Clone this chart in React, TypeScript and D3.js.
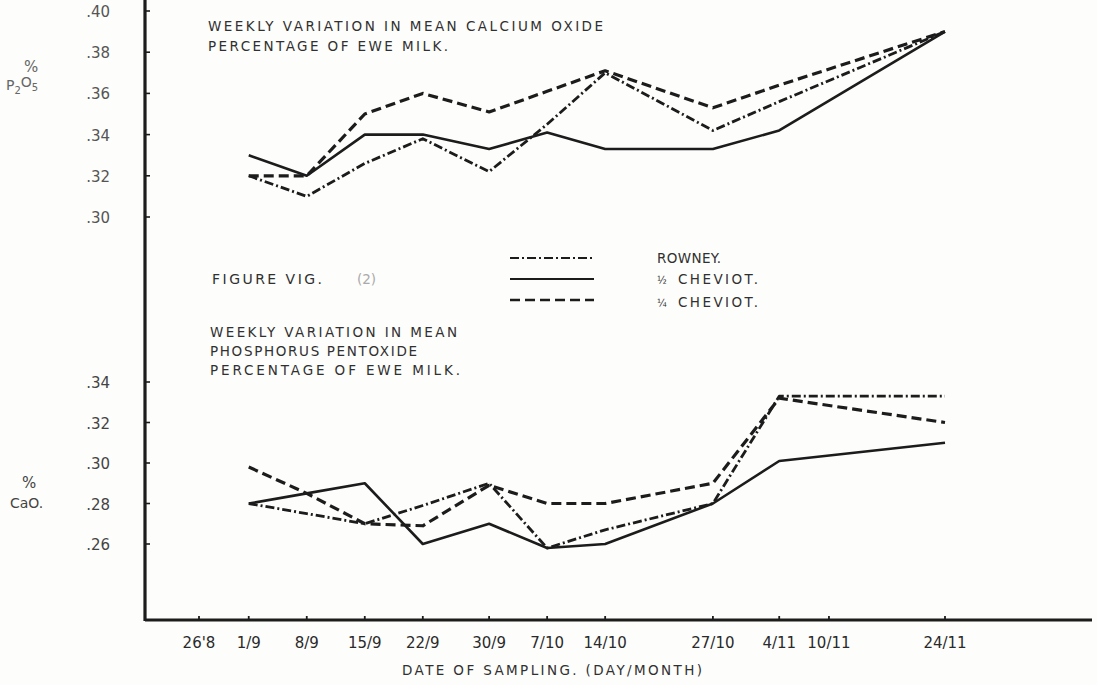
import React from "react";
import * as d3 from "d3";

// sampling dates on the axis (day/month), year is arbitrary
const tickDates = ["1965-08-26", "1965-09-01", "1965-09-08", "1965-09-15", "1965-09-22", "1965-09-30",
  "1965-10-07", "1965-10-14", "1965-10-27", "1965-11-04", "1965-11-10", "1965-11-24"];
const tickLabels = ["26'8", "1/9", "8/9", "15/9", "22/9", "30/9", "7/10", "14/10", "27/10", "4/11", "10/11", "24/11"];

// dates that actually carry a measurement
const sampleDates = ["1965-09-01", "1965-09-08", "1965-09-15", "1965-09-22", "1965-09-30",
  "1965-10-07", "1965-10-14", "1965-10-27", "1965-11-04", "1965-11-24"];

// upper panel (labelled % P2O5)
const topTicks = [0.30, 0.32, 0.34, 0.36, 0.38, 0.40];
const topRomney = [0.32, 0.31, 0.326, 0.338, 0.322, 0.345, 0.37, 0.342, 0.356, 0.39];
const topHalf = [0.33, 0.32, 0.34, 0.34, 0.333, 0.341, 0.333, 0.333, 0.342, 0.39];
const topQuarter = [0.32, 0.32, 0.35, 0.36, 0.351, 0.361, 0.371, 0.353, 0.364, 0.39];

// lower panel (labelled % CaO)
const botTicks = [0.26, 0.28, 0.30, 0.32, 0.34];
const botRomney = [0.28, 0.275, 0.27, 0.279, 0.29, 0.258, 0.267, 0.28, 0.333, 0.333];
const botHalf = [0.28, 0.285, 0.29, 0.26, 0.27, 0.258, 0.26, 0.28, 0.301, 0.31];
const botQuarter = [0.298, 0.285, 0.27, 0.269, 0.289, 0.28, 0.28, 0.29, 0.332, 0.32];

const breeds = ["ROWNEY.", "CHEVIOT.", "CHEVIOT."];
const breedPrefix = ["", "½", "¼"];

const ink = "#1c1c1c";
const textInk = "#303030";
const font = "'DejaVu Sans', sans-serif";

const styles = [
  { dash: "9 3 2 3", w: 2.8 },
  { dash: null, w: 2.6 },
  { dash: "10 5", w: 3.2 },
];

const parse = d3.timeParse("%Y-%m-%d");

export default function App() {
  const W = 1097, H = 685;
  const axisX = 145, axisY = 620;

  const xScale = d3.scaleTime()
    .domain([parse(tickDates[0])!, parse(tickDates[tickDates.length - 1])!])
    .range([199, 945]);
  const yTop = d3.scaleLinear().domain([0.30, 0.40]).range([217, 11]);
  const yBot = d3.scaleLinear().domain([0.26, 0.34]).range([544, 382]);

  const dates = sampleDates.map(d => parse(d)!);
  const mkLine = (y: d3.ScaleLinear<number, number>) =>
    d3.line<number>().x((_, i) => xScale(dates[i])).y(v => y(v));

  const topSeries = [topRomney, topHalf, topQuarter];
  const botSeries = [botRomney, botHalf, botQuarter];

  const txt = (x: number, y: number, s: string, len?: number, size = 13.5) => (
    <text x={x} y={y} fontSize={size} fill={textInk} fontFamily={font}
      textLength={len} lengthAdjust={len ? "spacing" : undefined}>{s}</text>
  );

  return (
    <svg width={W} height={H} style={{ position: "absolute", left: 0, top: 0, background: "#fdfdfb" }}>
      {/* axes */}
      <line x1={axisX} x2={axisX} y1={0} y2={axisY + 1} stroke={ink} strokeWidth={3.2} />
      <line x1={axisX} x2={1092} y1={axisY} y2={axisY} stroke={ink} strokeWidth={2.8} />

      {topTicks.map(t => (
        <g key={"tt" + t}>
          <line x1={axisX} x2={axisX + 5} y1={yTop(t)} y2={yTop(t)} stroke={ink} strokeWidth={1.6} />
          <text x={110} y={yTop(t) + 6} textAnchor="end" fontSize={15} fill="#555" fontFamily={font}>
            {"." + Math.round(t * 100)}
          </text>
        </g>
      ))}
      {botTicks.map(t => (
        <g key={"bt" + t}>
          <line x1={axisX} x2={axisX + 5} y1={yBot(t)} y2={yBot(t)} stroke={ink} strokeWidth={1.6} />
          <text x={110} y={yBot(t) + 6} textAnchor="end" fontSize={15} fill="#444" fontFamily={font}>
            {"." + Math.round(t * 100)}
          </text>
        </g>
      ))}

      {tickDates.map((d, i) => {
        const x = xScale(parse(d)!);
        return (
          <g key={d}>
            <line x1={x} x2={x} y1={axisY - 4} y2={axisY} stroke={ink} strokeWidth={1.8} />
            <text x={x} y={axisY + 28} textAnchor="middle" fontSize={15} fill="#2a2a2a" fontFamily={font}>
              {tickLabels[i]}
            </text>
          </g>
        );
      })}

      {/* axis titles */}
      <text x={552} y={675} textAnchor="middle" fontSize={13.5} fill={textInk} fontFamily={font}
        textLength={300} lengthAdjust="spacing">DATE OF SAMPLING. (DAY/MONTH)</text>
      <text x={24} y={72} fontSize={15} fill="#666" fontFamily={font}>%</text>
      <text x={6} y={90} fontSize={14} fill="#666" fontFamily={font}>
        P<tspan dy={4} fontSize={10}>2</tspan><tspan dy={-7}>O</tspan><tspan dy={4} fontSize={10}>5</tspan>
      </text>
      <text x={22} y={488} fontSize={15} fill="#444" fontFamily={font}>%</text>
      <text x={10} y={508} fontSize={14} fill="#444" fontFamily={font}>CaO.</text>

      {/* panel titles */}
      {txt(208, 31, "WEEKLY VARIATION IN MEAN CALCIUM OXIDE", 395)}
      {txt(208, 51, "PERCENTAGE OF EWE MILK.", 240)}
      {txt(212, 284, "FIGURE VIG.", 110, 14)}
      <text x={357} y={284} fontSize={13.5} fill="#aaa" fontFamily={font}>(2)</text>
      {txt(210, 337, "WEEKLY VARIATION IN MEAN", 247)}
      {txt(210, 356, "PHOSPHORUS PENTOXIDE", 207)}
      {txt(210, 375, "PERCENTAGE OF EWE MILK.", 250)}

      {/* legend */}
      {styles.map((s, i) => {
        const y = 258 + i * 21;
        return (
          <g key={"lg" + i}>
            <line x1={510} x2={594} y1={y} y2={y} stroke={ink} strokeWidth={s.w - 0.6}
              strokeDasharray={s.dash ?? undefined} />
            {breedPrefix[i] ? (
              <text x={657} y={y + 5 + (i === 2 ? 2 : 0)} fontSize={10} fill={textInk} fontFamily={font}>
                {breedPrefix[i]}
              </text>
            ) : null}
            <text x={i === 0 ? 657 : 678} y={y + 5 + (i === 2 ? 2 : 0)} fontSize={13.5} fill={textInk}
              fontFamily={font} textLength={i === 0 ? 64 : 80} lengthAdjust="spacing">
              {breeds[i]}
            </text>
          </g>
        );
      })}

      {/* series */}
      {topSeries.map((s, i) => (
        <path key={"ts" + i} d={mkLine(yTop)(s) ?? ""} fill="none" stroke={ink}
          strokeWidth={styles[i].w} strokeDasharray={styles[i].dash ?? undefined}
          strokeLinejoin="round" />
      ))}
      {botSeries.map((s, i) => (
        <path key={"bs" + i} d={mkLine(yBot)(s) ?? ""} fill="none" stroke={ink}
          strokeWidth={styles[i].w} strokeDasharray={styles[i].dash ?? undefined}
          strokeLinejoin="round" />
      ))}
    </svg>
  );
}
